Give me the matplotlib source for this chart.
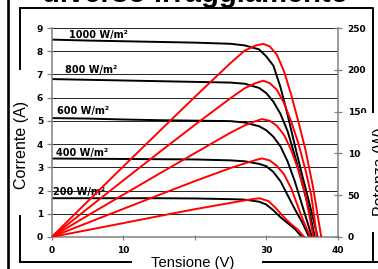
import matplotlib
matplotlib.use("Agg")
import matplotlib.pyplot as plt
from matplotlib.lines import Line2D
from matplotlib.patches import Rectangle

W, H = 378, 269

# irraggiamento (W/m²) e curve
irr_labels = ['1000 W/m²', '800 W/m²', '600 W/m²', '400 W/m²', '200 W/m²']

# curve I-V (corrente, asse sinistro)
v_1000 = [0, 5, 10, 15, 20, 25, 27, 29, 30, 31, 32, 33, 34, 35, 36, 37.2]
i_1000 = [8.50, 8.46, 8.43, 8.40, 8.37, 8.32, 8.25, 8.08, 7.78, 7.38, 6.45, 5.25, 3.95, 2.7, 1.5, 0]
v_800 = [0, 5, 10, 15, 20, 25, 27, 29, 30, 31, 32, 33, 34, 35, 36, 36.8]
i_800 = [6.80, 6.77, 6.74, 6.71, 6.68, 6.65, 6.60, 6.42, 6.20, 5.83, 5.30, 4.55, 3.5, 2.35, 1.15, 0]
v_600 = [0, 5, 10, 15, 20, 25, 27, 29, 30, 31, 32, 33, 34, 35, 36.4]
i_600 = [5.12, 5.10, 5.06, 5.03, 5.01, 4.99, 4.93, 4.77, 4.6, 4.32, 3.9, 3.25, 2.4, 1.4, 0]
v_400 = [0, 5, 10, 15, 20, 25, 27, 29, 30, 31, 32, 33, 34, 35, 36.0]
i_400 = [3.38, 3.37, 3.36, 3.35, 3.34, 3.30, 3.26, 3.15, 3.05, 2.8, 2.4, 1.8, 1.2, 0.65, 0]
v_200 = [0, 5, 10, 15, 20, 25, 27, 29, 30, 31, 32, 33, 34, 35]
i_200 = [1.67, 1.67, 1.67, 1.67, 1.66, 1.63, 1.61, 1.52, 1.40, 1.15, 0.85, 0.6, 0.35, 0]

# curve P-V (potenza, asse destro)
pv_1000 = [0, 5, 10, 15, 20, 25, 27, 28.5, 29.6, 30.5, 31.5, 32.5, 33.5, 34.5, 35.5, 36.5, 37.7]
p_1000 = [0, 42.3, 84.3, 126, 167.4, 208, 223, 229, 231, 228, 218, 198, 170, 138, 104, 62, 0]
pv_800 = [0, 5, 10, 15, 20, 25, 27, 28.5, 29.6, 30.5, 31.5, 32.5, 33.5, 34.5, 35.5, 36.3, 37.1]
p_800 = [0, 33.9, 67.6, 101, 134, 166, 178, 184, 187, 184, 176, 160, 138, 112, 80, 50, 0]
pv_600 = [0, 5, 10, 15, 20, 25, 27, 28.5, 29.4, 30.5, 31.5, 32.5, 33.5, 34.5, 35.5, 36.6]
p_600 = [0, 25.5, 50.6, 75.5, 100.2, 124.7, 133.5, 138.5, 141, 139, 133, 122, 104, 80, 50, 0]
pv_400 = [0, 5, 10, 15, 20, 25, 27, 28.5, 29.4, 30.5, 31.5, 32.5, 33.5, 34.5, 35.3, 36.2]
p_400 = [0, 16.9, 33.6, 50.3, 66.8, 82.5, 88, 92, 94, 91.5, 85, 75, 58, 35, 17, 0]
pv_200 = [0, 5, 10, 15, 20, 25, 27, 28.3, 29.1, 30.3, 31.3, 32.4, 33.4, 34.4, 35.3]
p_200 = [0, 8.3, 16.6, 25, 33.2, 40.8, 43.8, 45.6, 46.3, 43, 35, 24.3, 16, 9, 0]

x_ticks = [0, 10, 20, 30, 40]
i_ticks = list(range(0, 10))
p_ticks = list(range(0, 251, 50))

iv_curves = [(v_1000, i_1000), (v_800, i_800), (v_600, i_600), (v_400, i_400), (v_200, i_200)]
pv_curves = [(pv_1000, p_1000), (pv_800, p_800), (pv_600, p_600), (pv_400, p_400), (pv_200, p_200)]
# posizione etichette (V, A)
label_pos = [(2.4, 8.55), (1.85, 7.05), (0.8, 5.3), (0.6, 3.49), (0.2, 1.81)]


def fx(x):
    return x / W


def fy(y):
    return 1 - y / H


fig = plt.figure(figsize=(W / 100, H / 100), dpi=100)
ax = fig.add_axes([fx(51.7), fy(237), 286 / W, 209 / H])

tick_font = dict(family='DejaVu Sans', fontweight='bold', fontsize=6.5)

ax.set_xlim(0, 40)
ax.set_ylim(0, 9)
ax.set_xticks(x_ticks)
ax.set_yticks(i_ticks)
ax.set_xticklabels([str(t) for t in x_ticks], **tick_font)
ax.set_yticklabels([str(t) for t in i_ticks], **tick_font)
ax.grid(axis='y', color='black', lw=0.6)
ax.set_axisbelow(True)
for s in ['top', 'right']:
    ax.spines[s].set_visible(False)
for s in ['left', 'bottom']:
    ax.spines[s].set_color('#808080')
    ax.spines[s].set_linewidth(1.1)
ax.tick_params(axis='y', direction='out', length=3.6, width=0.9, color='#808080', pad=2.5)
ax.tick_params(axis='x', direction='inout', length=3.6, width=0.9, color='#808080', pad=4.5)

for v, i in iv_curves:
    ax.plot(v, i, color='black', lw=1.4, solid_joinstyle='round')

for (x, y), lab in zip(label_pos, irr_labels):
    ax.text(x, y, lab, ha='left', va='baseline', family='DejaVu Sans',
            fontweight='bold', fontsize=7)

ax2 = ax.twinx()
ax2.set_ylim(0, 250)
ax2.set_yticks(p_ticks)
ax2.set_yticklabels([str(t) for t in p_ticks], **tick_font)
for s in ['top', 'left', 'bottom']:
    ax2.spines[s].set_visible(False)
ax2.spines['right'].set_color('#808080')
ax2.spines['right'].set_linewidth(1.1)
ax2.tick_params(axis='y', direction='inout', length=5.8, width=0.9, color='#808080', pad=4.3)

for v, p in pv_curves:
    ax2.plot(v, p, color='#ff0000', lw=1.4, solid_joinstyle='round')

# cornice del riquadro
def fig_line(xs, ys, lw):
    fig.add_artist(Line2D([fx(x) for x in xs], [fy(y) for y in ys], color='black',
                          lw=lw, transform=fig.transFigure, zorder=3))

fig_line([7.5, 7.5], [0, H], 1.9)
fig_line([20, 373, 373], [8.3, 8.3, 262], 1.4)
fig_line([20, 20], [8.3, 262], 1.4)
fig_line([20, 377], [262, 262], 1.4)

# riquadri bianchi dietro i titoli degli assi
for x0, y0, x1, y1 in [(132, 242, 262, 269), (11, 70, 31, 215), (361, 113, 378, 232)]:
    fig.add_artist(Rectangle((fx(x0), fy(y1)), (x1 - x0) / W, (y1 - y0) / H,
                             facecolor='white', edgecolor='none',
                             transform=fig.transFigure, zorder=5))

fig.text(fx(193), fy(267.5), 'Tensione (V)', ha='center', va='baseline',
         family='Liberation Sans', fontsize=10.6, zorder=6)
fig.text(fx(22), fy(145), 'Corrente (A)', ha='center', va='center', rotation=90,
         family='Liberation Sans', fontsize=11.5, zorder=6)
fig.text(fx(381), fy(172), 'Potenza (W)', ha='center', va='center', rotation=90,
         family='Liberation Sans', fontsize=11.5, zorder=6)
fig.text(fx(195), fy(2.5), 'diverso irraggiamento', ha='center', va='baseline',
         family='Liberation Sans', fontweight='bold', fontsize=21, zorder=6)

fig.savefig('out.png', dpi=100)
